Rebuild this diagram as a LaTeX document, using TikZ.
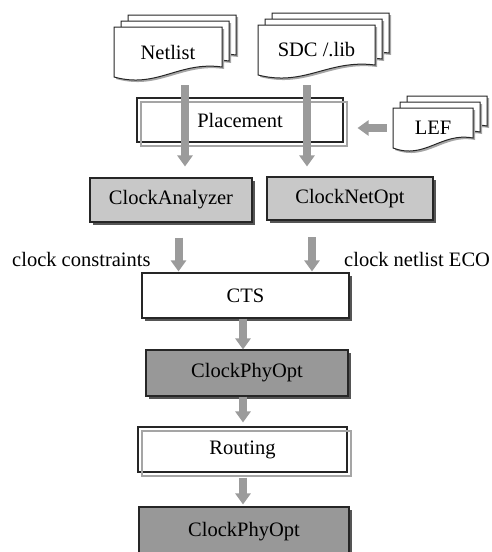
\documentclass[tikz,border=0pt]{standalone}
\usepackage{fontspec}
\setmainfont{Liberation Serif}
\usepackage{xcolor}
\usepackage{tikz}
\usetikzlibrary{arrows.meta}
\usetikzlibrary{shadows}

\definecolor{flowgray}{RGB}{155,155,155}
\definecolor{lightbox}{RGB}{200,200,200}
\definecolor{darkbox}{RGB}{152,152,152}
\definecolor{rimgray}{RGB}{165,165,165}
\definecolor{shadowgray}{RGB}{85,85,85}
\newcommand{\figfont}{\fontsize{20.5}{24}\selectfont}

\tikzset{
	boxshadow/.style={drop shadow={shadow xshift=3pt,shadow yshift=-3pt,fill=shadowgray,opacity=1}},
	stage/.style={draw=black!85,line width=1.1pt,fill=white,minimum height=44pt,inner sep=0pt,font=\figfont},
	tool/.style={stage,boxshadow},
	process/.style={stage,postaction={draw=rimgray,line width=1.1pt,transform canvas={xshift=4pt,yshift=-4pt}}},
	flow/.style={-{Triangle[width=15pt,length=11pt]},line width=8pt,draw=flowgray},
	sheet/.style={draw=black!85,line width=1pt,fill=white,drop shadow={shadow xshift=2pt,shadow yshift=-2pt,fill=black!35,opacity=1}},
}

% one sheet: left, top, width, height
\newcommand{\docsheet}[4]{%
	\filldraw[sheet] ({#1},{#2+#4}) -- ({#1},{#2}) -- ({#1+#3},{#2}) -- ({#1+#3},{#2+#4-10})
		.. controls ({#1+0.6*#3},{#2+#4-16}) and ({#1+0.4*#3},{#2+#4+12}) .. ({#1},{#2+#4}) -- cycle;}
% stack of three sheets: name, left, top, width, height, text
\newcommand{\docstack}[6]{%
	\docsheet{#2+14}{#3-12}{#4}{#5}
	\docsheet{#2+7}{#3-6}{#4}{#5}
	\docsheet{#2}{#3}{#4}{#5}
	\node[inner sep=0pt,minimum width=#4pt,minimum height=#5pt,font=\figfont] (#1) at ({#2+#4/2},{#3+#5/2}) {#6};}

\begin{document}
\begin{tikzpicture}[x=1pt,y=-1pt]
		\useasboundingbox (0,0) rectangle (492,552);
		%%nodes
		\docstack{netlist}{114}{27}{108}{50}{Netlist}
		\docstack{sdc}{258}{25}{117}{50}{SDC /.lib}
		\docstack{lef}{393}{108}{80}{40}{LEF}
		\node[process,minimum width=206pt] (placement) at (240,120) {Placement};
		\node[tool,fill=lightbox,minimum width=162pt] (analyzer) at (171,200) {ClockAnalyzer};
		\node[tool,fill=lightbox,minimum width=166pt,minimum height=43pt] (netopt) at (350,198.5) {ClockNetOpt};
		\node[font=\figfont,anchor=base west,inner sep=0pt] (constraints) at (12,266) {clock constraints};
		\node[font=\figfont,anchor=base west,inner sep=0pt] (eco) at (344,266) {clock netlist ECO};
		\node[tool,minimum width=207pt,minimum height=45pt] (cts) at (245.5,295.5) {CTS};
		\node[tool,fill=darkbox,minimum width=202pt,minimum height=46pt] (phyopt) at (247,373) {ClockPhyOpt};
		\node[process,minimum width=209pt,minimum height=45pt] (routing) at (242.5,449.5) {Routing};
		\node[tool,fill=darkbox,minimum width=210pt,minimum height=50pt] (phyoptb) at (244,532) {ClockPhyOpt};
		%%arrows
		\draw[flow] ([shift={(17,8)}]netlist.south) -- ([shift={(14,-11)}]analyzer.north);
		\draw[flow] ([shift={(-9.5,10)}]sdc.south) -- ([shift={(-43,-10)}]netopt.north);
		\draw[flow] ([shift={(-6,0)}]lef.west) -- ([shift={(14,8)}]placement.east);
		\draw[flow] ([shift={(7.5,15)}]analyzer.south) -- ([shift={(-67,-1)}]cts.north);
		\draw[flow] ([shift={(-38,16.5)}]netopt.south) -- ([shift={(66.5,-1)}]cts.north);
		\draw[flow] ([shift={(-2.5,0)}]cts.south) -- ([shift={(-4,0)}]phyopt.north);
		\draw[flow] ([shift={(-4,0)}]phyopt.south) -- ([shift={(0.5,-4)}]routing.north);
		\draw[flow] ([shift={(0.5,5)}]routing.south) -- ([shift={(-1,-2)}]phyoptb.north);
	\end{tikzpicture}
\end{document}
